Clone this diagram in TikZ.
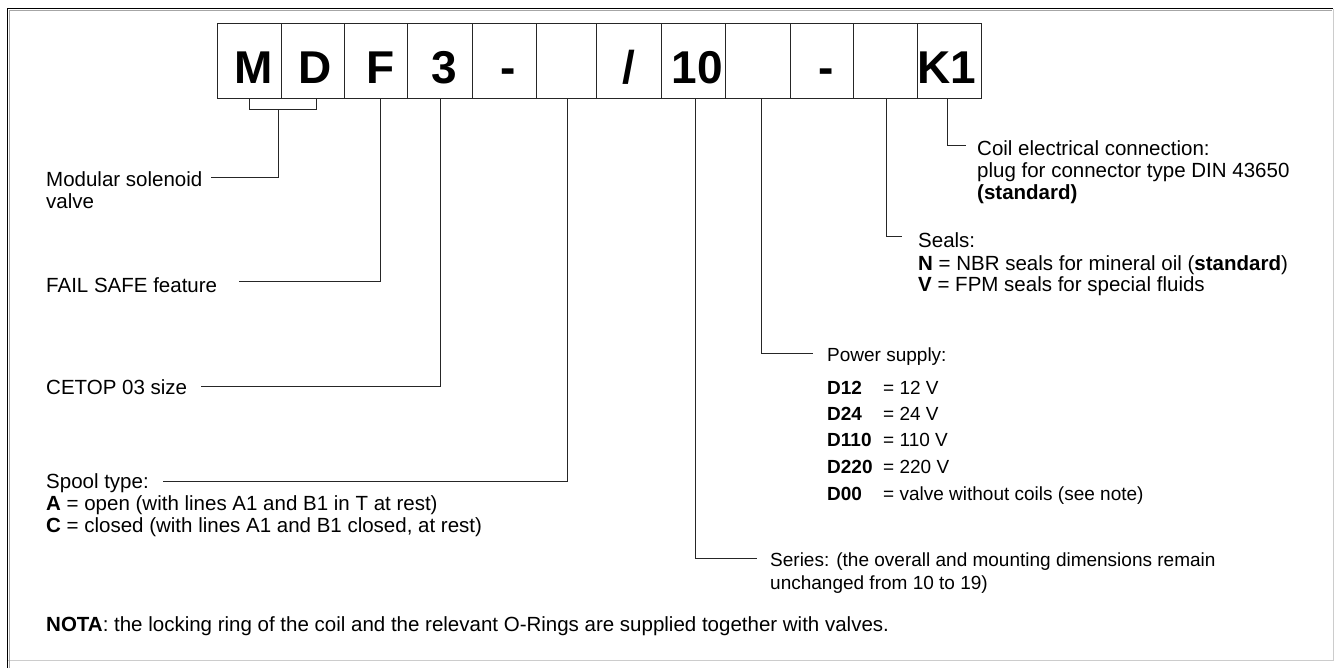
\documentclass[tikz,border=0pt]{standalone}
\usepackage{fontspec}
\setmainfont{Liberation Sans}
\usetikzlibrary{calc}
\begin{document}
\begin{tikzpicture}[x=1pt,y=-1pt,
  darkedge/.style={draw=black,line width=1.2pt},
  inneredge/.style={draw=black!35,line width=1pt},
  lightedge/.style={draw=black!20,line width=1pt},
  cell/.style={draw=black!85,line width=0.9pt,minimum height=75pt,inner sep=0pt},
  big/.style={anchor=base,inner sep=0pt,font=\fontsize{46}{46}\selectfont\bfseries},
  lead/.style={draw=black!85,line width=0.9pt},
  txt/.style={anchor=base west,inner sep=0pt,font=\fontsize{20.5}{22}\selectfont},
  ps/.style={anchor=base west,inner sep=0pt,font=\fontsize{19}{22}\selectfont}]
\useasboundingbox (0,0) rectangle (1340,668);
% frame: dark top/left edges, light bottom/right edges
\coordinate (fTL) at (7.5,8.8);
\coordinate (fBR) at (1333,660);
\path[lightedge] (fTL -| fBR) -- (fBR) -- (fBR -| fTL);
\path[inneredge] (9,668) -- (9,10.3) -- (1332,10.3);
\path[darkedge] (7.5,668) -- (fTL) -- (fTL -| fBR);
% code cells
\foreach \i/\xa/\xb in {1/217.7/281.3,2/281.3/344.3,3/344.3/407.3,4/407.3/472.3,5/472.3/536.7,6/536.7/596.7,7/596.7/661,8/661/725.3,9/725.3/790,10/790/853.3,11/853.3/917.7,12/917.7/981.7}{
  \node[cell,minimum width={(\xb-\xa)*1pt}] (b\i) at ({(\xa+\xb)/2},60.8) {};
}
\node[big] (t1) at ($(b1.south)+(4,-15)$) {M};
\node[big] (t2) at ($(b2.south)+(2,-15)$) {D};
\node[big] (t3) at ($(b3.south)+(5,-15)$) {F};
\node[big] (t4) at ($(b4.south)+(4,-15)$) {3};
\node[big] (t5) at ($(b5.south)+(4,-15)$) {-};
\node[big] (t7) at ($(b7.south)+(0,-15)$) {/};
\node[big] (t8) at ($(b8.south)+(4,-15)$) {10};
\node[big] (t10) at ($(b10.south)+(4,-15)$) {-};
\node[big] (t12) at ($(b12.south)+(-3,-15)$) {K1};
% left texts
\node[txt] (mod1) at (46,187) {Modular solenoid};
\node[txt] (mod2) at (46,209) {valve};
\node[txt] (fail) at (46,292) {FAIL SAFE feature};
\node[txt] (cetop) at (46,394.5) {CETOP 03 size};
\node[txt] (spool) at (46,488) {Spool type:};
\node[txt] (spA) at (46,510) {\textbf{A} = open (with lines A1 and B1 in T at rest)};
\node[txt] (spC) at (46,532) {\textbf{C} = closed (with lines A1 and B1 closed, at rest)};
% right texts
\node[txt] (coil1) at (977,156) {Coil electrical connection:};
\node[txt] (coil2) at (977,178) {plug for connector type DIN 43650};
\node[txt] (coil3) at (977,200) {\textbf{(standard)}};
\node[txt] (seal1) at (918,247.7) {Seals:};
\node[txt] (seal2) at (918,270) {\textbf{N} = NBR seals for mineral oil (\textbf{standard})};
\node[txt] (seal3) at (918,291) {\textbf{V} = FPM seals for special fluids};
\node[ps] (pow) at (827,361.7) {Power supply:};
\foreach \n/\code/\val/\yy in {p1/D12/12 V/394.3,p2/D24/24 V/420.3,p3/D110/110 V/446.7,p4/D220/220 V/473.3,p5/D00/valve without coils (see note)/500}{
  \node[ps] (\n c) at (827,\yy) {\textbf{\code}};
  \node[ps] (\n v) at (883,\yy) {= \val};
}
\node[ps] (ser1) at (770,566) {Series: (the overall and mounting dimensions remain};
\node[ps] (ser2) at (770,589) {unchanged from 10 to 19)};
\node[txt] (nota) at (46,631) {\textbf{NOTA}: the locking ring of the coil and the relevant O-Rings are supplied together with valves.};
% connectors
\coordinate (brL) at (249,109.3);
\coordinate (brR) at (316.3,109.3);
\coordinate (brM) at (278.3,109.3);
\draw[lead] (brL |- b1.south) -- (brL) -- (brR) -- (brR |- b2.south);
\draw[lead] (brM) |- ($(mod1.east)+(8,-2)$);
\draw[lead] (380,0 |- b3.south) |- ($(fail.east)+(22,-3)$);
\draw[lead] (440,0 |- b4.south) |- ($(cetop.east)+(14,-1)$);
\draw[lead] (567.7,0 |- b6.south) |- ($(spool.east)+(14,-1)$);
\draw[lead] (695,0 |- b8.south) |- ($(ser1.west)+(-13,-3)$);
\draw[lead] (761,0 |- b9.south) |- ($(pow.west)+(-14,-3.5)$);
\draw[lead] (886,0 |- b11.south) |- ($(seal1.west)+(-16,-3.5)$);
\draw[lead] (947.7,0 |- b12.south) |- ($(coil1.west)+(-11,-3.5)$);
\end{tikzpicture}
\end{document}
